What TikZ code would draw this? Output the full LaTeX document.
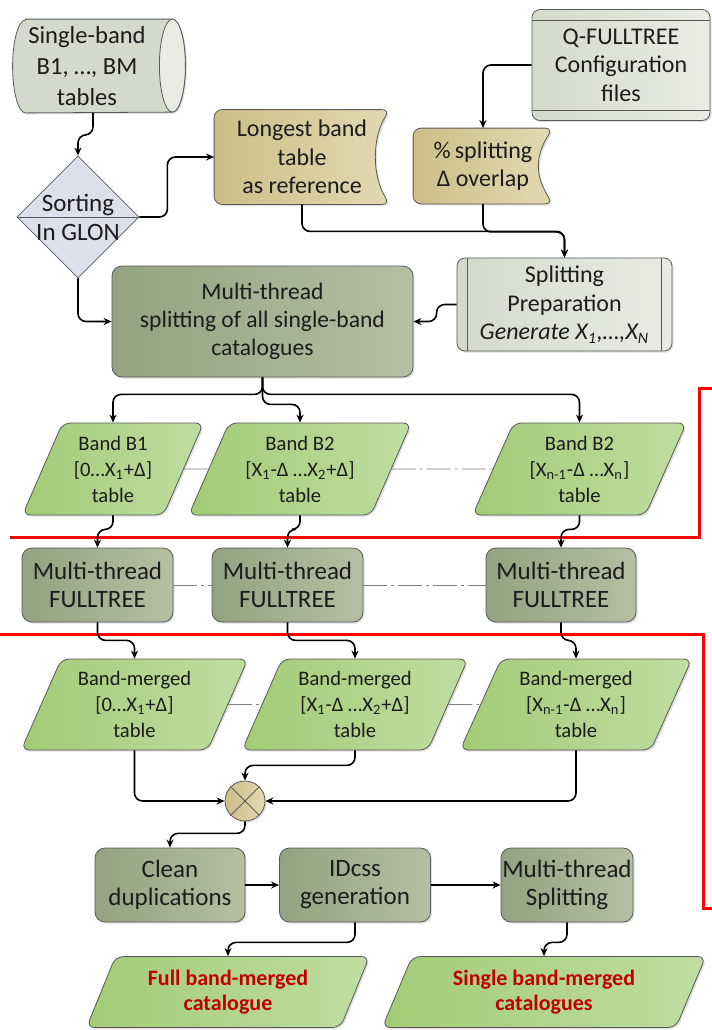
\documentclass[tikz,border=0pt]{standalone}
\usepackage{fontspec}
\setmainfont{Carlito}
\usetikzlibrary{shapes.geometric,arrows.meta,shadows,backgrounds,calc}

\definecolor{txt}{HTML}{1C1C1C}
\definecolor{greyA}{HTML}{D3DACC}
\definecolor{greyB}{HTML}{E8ECE4}
\definecolor{blueA}{HTML}{DCE0EC}
\definecolor{tanA}{HTML}{CDBE88}
\definecolor{tanB}{HTML}{E3D9B2}
\definecolor{procA}{HTML}{93A281}
\definecolor{procB}{HTML}{B5BFA2}
\definecolor{bandA}{HTML}{A2CB76}
\definecolor{bandB}{HTML}{C0DDA2}
\definecolor{outred}{HTML}{C00000}

\tikzset{
  txtbase/.style={align=center, text=txt, inner sep=0pt, font=\fontsize{12}{14.2}\selectfont},
  dshadow/.style={drop shadow={opacity=0.25, shadow xshift=0.8pt, shadow yshift=-0.8pt}},
  outline/.style={draw=gray!70!black, line width=0.4pt},
  decbox/.style={diamond, outline, fill=blueA},
  databox/.style={txtbase, rectangle, rounded corners=4pt, outline,
    left color=greyA, right color=greyB, dshadow},
  procbox/.style={txtbase, rectangle, rounded corners=5pt, outline,
    left color=procA, right color=procB, dshadow, font=\fontsize{12.5}{14}\selectfont},
  tanshape/.style={outline, left color=tanA, right color=tanB, rounded corners=4pt, dshadow},
  bandbox/.style={txtbase, trapezium, trapezium left angle=65, trapezium right angle=115,
    trapezium stretches=true, rounded corners=4pt, outline,
    left color=bandA, right color=bandB, dshadow, font=\fontsize{10.3}{13}\selectfont},
  outbox/.style={bandbox, text=outred, font=\bfseries\fontsize{11}{12.5}\selectfont},
  flow/.style={-{Stealth[length=4pt,width=3.5pt]}, line width=0.8pt, rounded corners=4pt},
  linkline/.style={gray, line width=0.4pt, dash pattern=on 12pt off 2pt on 1.5pt off 2pt},
  redline/.style={red, line width=1.5pt}
}

\begin{document}
\begin{tikzpicture}[x=0.5pt,y=-0.5pt]
\useasboundingbox (0,0) rectangle (712,1030);

% inputs and preparation
\node[txtbase, minimum width=86pt, minimum height=46.5pt, font=\fontsize{12.3}{15.3}\selectfont] (cyl) at (99,66) {\hspace*{-12pt}Single-band\\\hspace*{-12pt}B1, …, BM\\\hspace*{-12pt}tables};
\node[decbox, minimum width=61pt, minimum height=61pt,
  label={[txtbase, font=\fontsize{12.5}{14.5}\selectfont]center:{Sorting\\In GLON}}] (sort) at (78,217) {};
\node[txtbase, minimum width=87.5pt, minimum height=47pt] (longest) at (302,157) {Longest band\\table\\as reference};
\node[databox, minimum width=89pt, minimum height=55.5pt] (qfull) at (621,65) {Q-FULLTREE\\Configuration\\files};
\node[txtbase, minimum width=69.5pt, minimum height=37.5pt] (pct) at (483,166) {\%\,splitting\\Δ overlap};
\node[databox, minimum width=107.5pt, minimum height=46.5pt] (prep) at (564.5,304.5) {Splitting\\Preparation\\\textit{Generate X\textsubscript{1},…,X\textsubscript{N}}};
\node[procbox, minimum width=150.5pt, minimum height=55.5pt, font=\fontsize{11.8}{14}\selectfont] (split) at (262.5,321.5) {Multi-thread\\splitting of all single-band\\catalogues};

\begin{scope}[on background layer]
  \draw[outline, fill=greyA, dshadow] ([xshift=6.5pt]cyl.north west) -- ([xshift=-6.5pt]cyl.north east)
    arc[start angle=90, end angle=-90, x radius=6.5pt, y radius=23.25pt]
    -- ([xshift=6.5pt]cyl.south west)
    arc[start angle=270, end angle=90, x radius=6.5pt, y radius=23.25pt] -- cycle;
  \draw[outline, fill=greyB] ([xshift=-6.5pt]cyl.north east)
    arc[start angle=90, end angle=-270, x radius=6.5pt, y radius=23.25pt];
  \foreach \n in {longest,pct}
    \draw[tanshape] (\n.south west) -- (\n.north west) -- (\n.north east)
      .. controls +(-9pt,-14pt) and +(-9pt,14pt) .. (\n.south east) -- cycle;
\end{scope}
\draw[outline] (sort.west) -- (sort.east);
\draw[outline] ([yshift=-5.5pt]qfull.north west) -- ([yshift=-5.5pt]qfull.north east)
  ([yshift=5.5pt]qfull.south west) -- ([yshift=5.5pt]qfull.south east);
\draw[outline] ([xshift=5.5pt]prep.north west) -- ([xshift=5.5pt]prep.south west)
  ([xshift=-5.5pt]prep.north east) -- ([xshift=-5.5pt]prep.south east);

% red frames
\draw[redline] (10,537) -- (699,537) -- (699,388) -- (712,388);
\draw[redline] (0,634) -- (703,634) -- (703,908) -- (712,908);

% split bands
\node[bandbox, minimum width=91pt, minimum height=46pt] (b1) at (113,469) {Band B1\\{[}0…X\textsubscript{1}+Δ{]}\\table};
\node[bandbox, minimum width=112pt, minimum height=46pt] (b2) at (300,469) {Band B2\\{[}X\textsubscript{1}-Δ …X\textsubscript{2}+Δ{]}\\table};
\node[bandbox, minimum width=107.5pt, minimum height=46pt] (b3) at (579.5,469) {Band B2\\{[}X\textsubscript{n-1}-Δ …X\textsubscript{n}{]}\\table};

\node[procbox, minimum width=75.5pt, minimum height=37pt] (fta) at (97.5,585) {Multi-thread\\FULLTREE};
\node[procbox, minimum width=75.5pt, minimum height=37pt] (ftb) at (287.5,585) {Multi-thread\\FULLTREE};
\node[procbox, minimum width=75pt, minimum height=37pt] (ftc) at (561,585) {Multi-thread\\FULLTREE};

\node[bandbox, minimum width=113.5pt, minimum height=45.5pt] (bma) at (134.5,704.5) {Band-merged\\{[}0…X\textsubscript{1}+Δ{]}\\table};
\node[bandbox, minimum width=113pt, minimum height=45.5pt] (bmb) at (355,704.5) {Band-merged\\{[}X\textsubscript{1}-Δ …X\textsubscript{2}+Δ{]}\\table};
\node[bandbox, minimum width=116pt, minimum height=45.5pt] (bmc) at (576,704.5) {Band-merged\\{[}X\textsubscript{n-1}-Δ …X\textsubscript{n}{]}\\table};

\node[circle, outline, left color=tanA, right color=tanB, dshadow,
  minimum size=20pt, inner sep=0pt] (mrg) at (245,801) {};
\draw[outline] (mrg.north west) -- (mrg.south east) (mrg.north east) -- (mrg.south west);

% final steps
\node[procbox, minimum width=75pt, minimum height=37pt] (clean) at (170,885) {Clean\\duplications};
\node[procbox, minimum width=75.5pt, minimum height=37pt] (idcss) at (355,885) {IDcss\\generation};
\node[procbox, minimum width=66pt, minimum height=37pt] (msplit) at (567,885) {Multi-thread\\Splitting};
\node[outbox, minimum width=142pt, minimum height=35.5pt] (full) at (228,992) {Full band-merged\\catalogue};
\node[outbox, minimum width=162pt, minimum height=35.5pt] (single) at (544,992) {Single band-merged\\catalogues};

% dash-dot links
\draw[linkline] (b1.east) -- (b2.west);
\draw[linkline] (b2.east) -- (b3.west);
\draw[linkline] (fta.east) -- (ftb.west);
\draw[linkline] (ftb.east) -- (ftc.west);
\draw[linkline] (bma.east) -- (bmb.west);
\draw[linkline] (bmb.east) -- (bmc.west);

% connectors
\draw[flow] ([xshift=-3pt]cyl.south) -- ++(0,22) -| (sort.north);
\draw[flow] (sort.east) -- ++(28,0) |- (longest.west);
\draw[flow] (sort.south) |- (split.west);
\draw[flow] (qfull.west) -| (pct.north);
\draw[flow] (longest.south) -- ++(0,27) -| (prep.north);
\draw[flow] (pct.south) -- ++(0,28) -| (prep.north);
\draw[flow] (prep.west) -- ++(-20,0) |- (split.east);
\draw[flow] (split.south) -- ++(0,17) -| (b1.north);
\draw[flow] (split.south) -- ++(0,27) -| (b2.north);
\draw[flow] (split.south) -- ++(0,17) -| (b3.north);
\draw[flow] (b1.south) -- ++(0,14) -| (fta.north);
\draw[flow] (b2.south) -- ++(0,14) -| (ftb.north);
\draw[flow] (b3.south) -- ++(0,14) -| (ftc.north);
\draw[flow] (fta.south) -- ++(0,18) -| (bma.north);
\draw[flow] (ftb.south) -- ++(0,18) -| (bmb.north);
\draw[flow] (ftc.south) -- ++(0,18) -| (bmc.north);
\draw[flow] (bma.south) |- (mrg.west);
\draw[flow] (bmb.south) -- ++(0,15) -| (mrg.north);
\draw[flow] (bmc.south) |- (mrg.east);
\draw[flow] (mrg.south) -- ++(0,12) -| (clean.north);
\draw[flow] (clean.east) -- (idcss.west);
\draw[flow] (idcss.east) -- (msplit.west);
\draw[flow] (idcss.south) -- ++(0,20) -| (full.north);
\draw[flow] (msplit.south) -- ++(0,20) -| (single.north);
\end{tikzpicture}
\end{document}
